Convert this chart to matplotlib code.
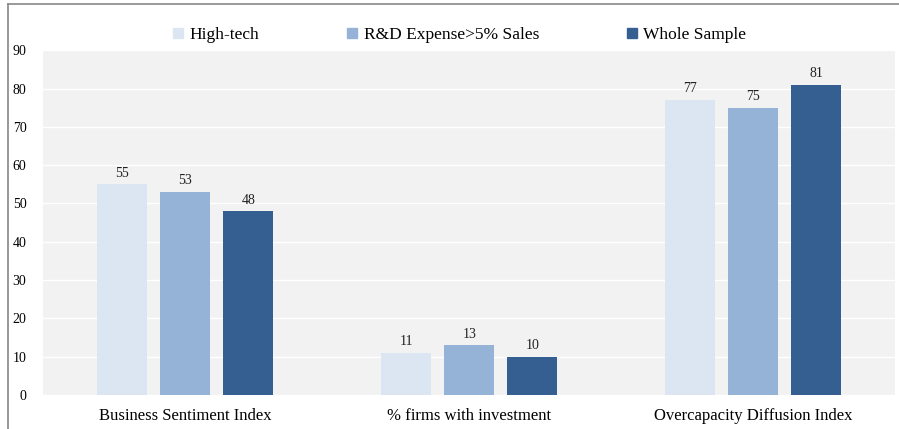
import matplotlib.pyplot as plt
import numpy as np
from matplotlib.lines import Line2D

categories = ["Business Sentiment Index", "% firms with investment", "Overcapacity Diffusion Index"]
series_names = ["High-tech", "R&D Expense>5% Sales", "Whole Sample"]
high_tech = [55, 11, 77]
rd_expense = [53, 13, 75]
whole_sample = [48, 10, 81]
colors = ["#dce6f2", "#95b3d7", "#365f91"]

plt.rcParams['font.family'] = ['Liberation Serif', 'DejaVu Serif']

fig = plt.figure(figsize=(8.99, 4.29), dpi=100)
ax = fig.add_axes([0.048, 0.079, 0.948, 0.804])
ax.set_facecolor("#f2f2f2")

x = np.arange(len(categories))
w = 0.176
step = 0.222
for i, (vals, c, name) in enumerate(zip([high_tech, rd_expense, whole_sample], colors, series_names)):
    pos = x + (i - 1) * step
    ax.bar(pos, vals, width=w, color=c, label=name, zorder=3)
    for p, v in zip(pos, vals):
        ax.text(p, v + 1.2, str(v), ha="center", va="bottom", fontsize=10, color="#222222")

ax.set_xlim(-0.5, 2.5)
ax.set_ylim(0, 90)
ax.set_yticks(range(0, 91, 10))
ax.set_xticks(x)
ax.set_xticklabels(categories, fontsize=12)
ax.tick_params(axis="both", length=0)
ax.tick_params(axis="y", labelsize=10, pad=12)
ax.tick_params(axis="x", pad=9)
ax.grid(axis="y", color="white", linewidth=1, zorder=0)
for s in ax.spines.values():
    s.set_visible(False)

handles = [Line2D([], [], marker="s", linestyle="none", markersize=7.5, color=c) for c in colors]
fig.legend(handles, series_names, loc="center", bbox_to_anchor=(0.507, 0.918), ncol=3,
           frameon=False, fontsize=12.5, columnspacing=4.6, handletextpad=-0.1, handlelength=1.5)

# border lines around figure
fig.add_artist(Line2D([0.009, 1.0], [0.99, 0.99], color="#888888", linewidth=1.2, transform=fig.transFigure))
fig.add_artist(Line2D([0.009, 0.009], [0.0, 0.99], color="#888888", linewidth=1.2, transform=fig.transFigure))

fig.savefig("out.png", dpi=100)
